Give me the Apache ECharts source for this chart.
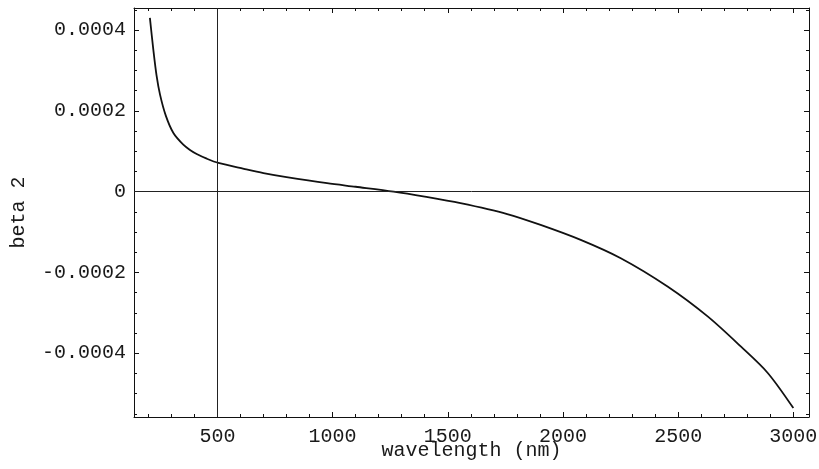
<!DOCTYPE html>
<html><head><meta charset="utf-8">
<script src="https://cdn.jsdelivr.net/npm/echarts@6/dist/echarts.min.js"></script>
<style>html,body{margin:0;padding:0;background:#fff}#c{width:819px;height:469px}</style>
</head><body><div id="c"></div>
<script>
// ---- data ----
const wavelengths = [207, 222, 236, 251, 276, 309, 352, 381, 410, 454, 504, 615, 700, 800, 976, 1100, 1265, 1400, 1555, 1758, 1903, 2077, 2251, 2454, 2628, 2773, 2889, 3000];
const beta2 = [0.000430, 0.000351, 0.000287, 0.000240, 0.000188, 0.000145, 0.000116, 0.000103, 0.000093, 0.0000815, 0.000071, 0.0000565, 0.000046, 0.000036, 0.0000208, 0.000012, 0.0, -0.0000125, -0.0000288, -0.0000555, -0.0000824, -0.0001195, -0.000165, -0.000235, -0.000309, -0.000384, -0.000449, -0.000536];
const xMajorTicks = [500, 1000, 1500, 2000, 2500, 3000];
const yMajorTicks = [-0.0004, -0.0002, 0, 0.0002, 0.0004];
const xAxisOrigin = 500;
const yAxisOrigin = 0;
const xTitle = 'wavelength (nm)';
const yTitle = 'beta 2';
const xRange = [138, 3068];
const yRange = [-0.000558, 0.0004545];

// minor tick positions
const xMinorTicks = [];
for (let v = 200; v <= 3000; v += 100) xMinorTicks.push(v);
const yMinorTicks = [];
for (let k = -11; k <= 9; k++) yMinorTicks.push(k * 0.00005);

const FONT = '"Liberation Mono", "DejaVu Sans Mono", monospace';
const INK = '#111';

function xAx(pos, vals, len, labels, line) {
  return {
    type: 'value', position: pos, min: xRange[0], max: xRange[1],
    axisLine: { show: line, onZero: false, lineStyle: { color: INK, width: 1 } },
    axisTick: { show: true, inside: true, length: len, customValues: vals, lineStyle: { color: INK, width: 1 } },
    axisLabel: { show: labels, customValues: vals, margin: 10, fontFamily: FONT, fontSize: 20, color: '#1a1a1a',
      formatter: v => String(v) },
    splitLine: { show: false }
  };
}
function yAx(pos, vals, len, labels, line) {
  return {
    type: 'value', position: pos, min: yRange[0], max: yRange[1],
    axisLine: { show: line, onZero: false, lineStyle: { color: INK, width: 1 } },
    axisTick: { show: true, inside: true, length: len, customValues: vals, lineStyle: { color: INK, width: 1 } },
    axisLabel: { show: labels, customValues: vals, margin: 8, fontFamily: FONT, fontSize: 20, color: '#1a1a1a',
      formatter: v => (Math.abs(v) < 1e-12 ? '0' : v.toFixed(4)) },
    splitLine: { show: false }
  };
}

const xa0 = xAx('bottom', xMajorTicks, 5, true, true);
xa0.name = xTitle; xa0.nameLocation = 'middle'; xa0.nameGap = 24; xa0.nameMoveOverlap = false;
xa0.nameTextStyle = { fontFamily: FONT, fontSize: 20, color: '#1a1a1a' };
const ya0 = yAx('left', yMajorTicks, 5, true, true);
ya0.name = yTitle; ya0.nameLocation = 'middle'; ya0.nameGap = 105; ya0.nameMoveOverlap = false;
ya0.nameTextStyle = { fontFamily: FONT, fontSize: 20, color: '#1a1a1a' };

const chart = echarts.init(document.getElementById('c'), null, { renderer: 'canvas' });
chart.setOption({
  animation: false,
  backgroundColor: '#fff',
  grid: { left: 134, right: 10, top: 8, bottom: 52, containLabel: false, outerBoundsMode: 'none' },
  xAxis: [
    xa0,
    xAx('top', xMajorTicks, 5, false, true),
    xAx('bottom', xMinorTicks, 3, false, false),
    xAx('top', xMinorTicks, 3, false, false)
  ],
  yAxis: [
    ya0,
    yAx('right', yMajorTicks, 5, false, true),
    yAx('left', yMinorTicks, 3, false, false),
    yAx('right', yMinorTicks, 3, false, false)
  ],
  series: [{
    type: 'line',
    xAxisIndex: 0, yAxisIndex: 0,
    data: wavelengths.map((w, i) => [w, beta2[i]]),
    showSymbol: false,
    smooth: 0.3,
    lineStyle: { color: INK, width: 1.8 },
    markLine: {
      silent: true, symbol: 'none', animation: false,
      label: { show: false },
      lineStyle: { color: '#222', width: 1, type: 'solid' },
      data: [{ xAxis: xAxisOrigin }, { yAxis: yAxisOrigin }]
    }
  }]
});
</script>
</body></html>
